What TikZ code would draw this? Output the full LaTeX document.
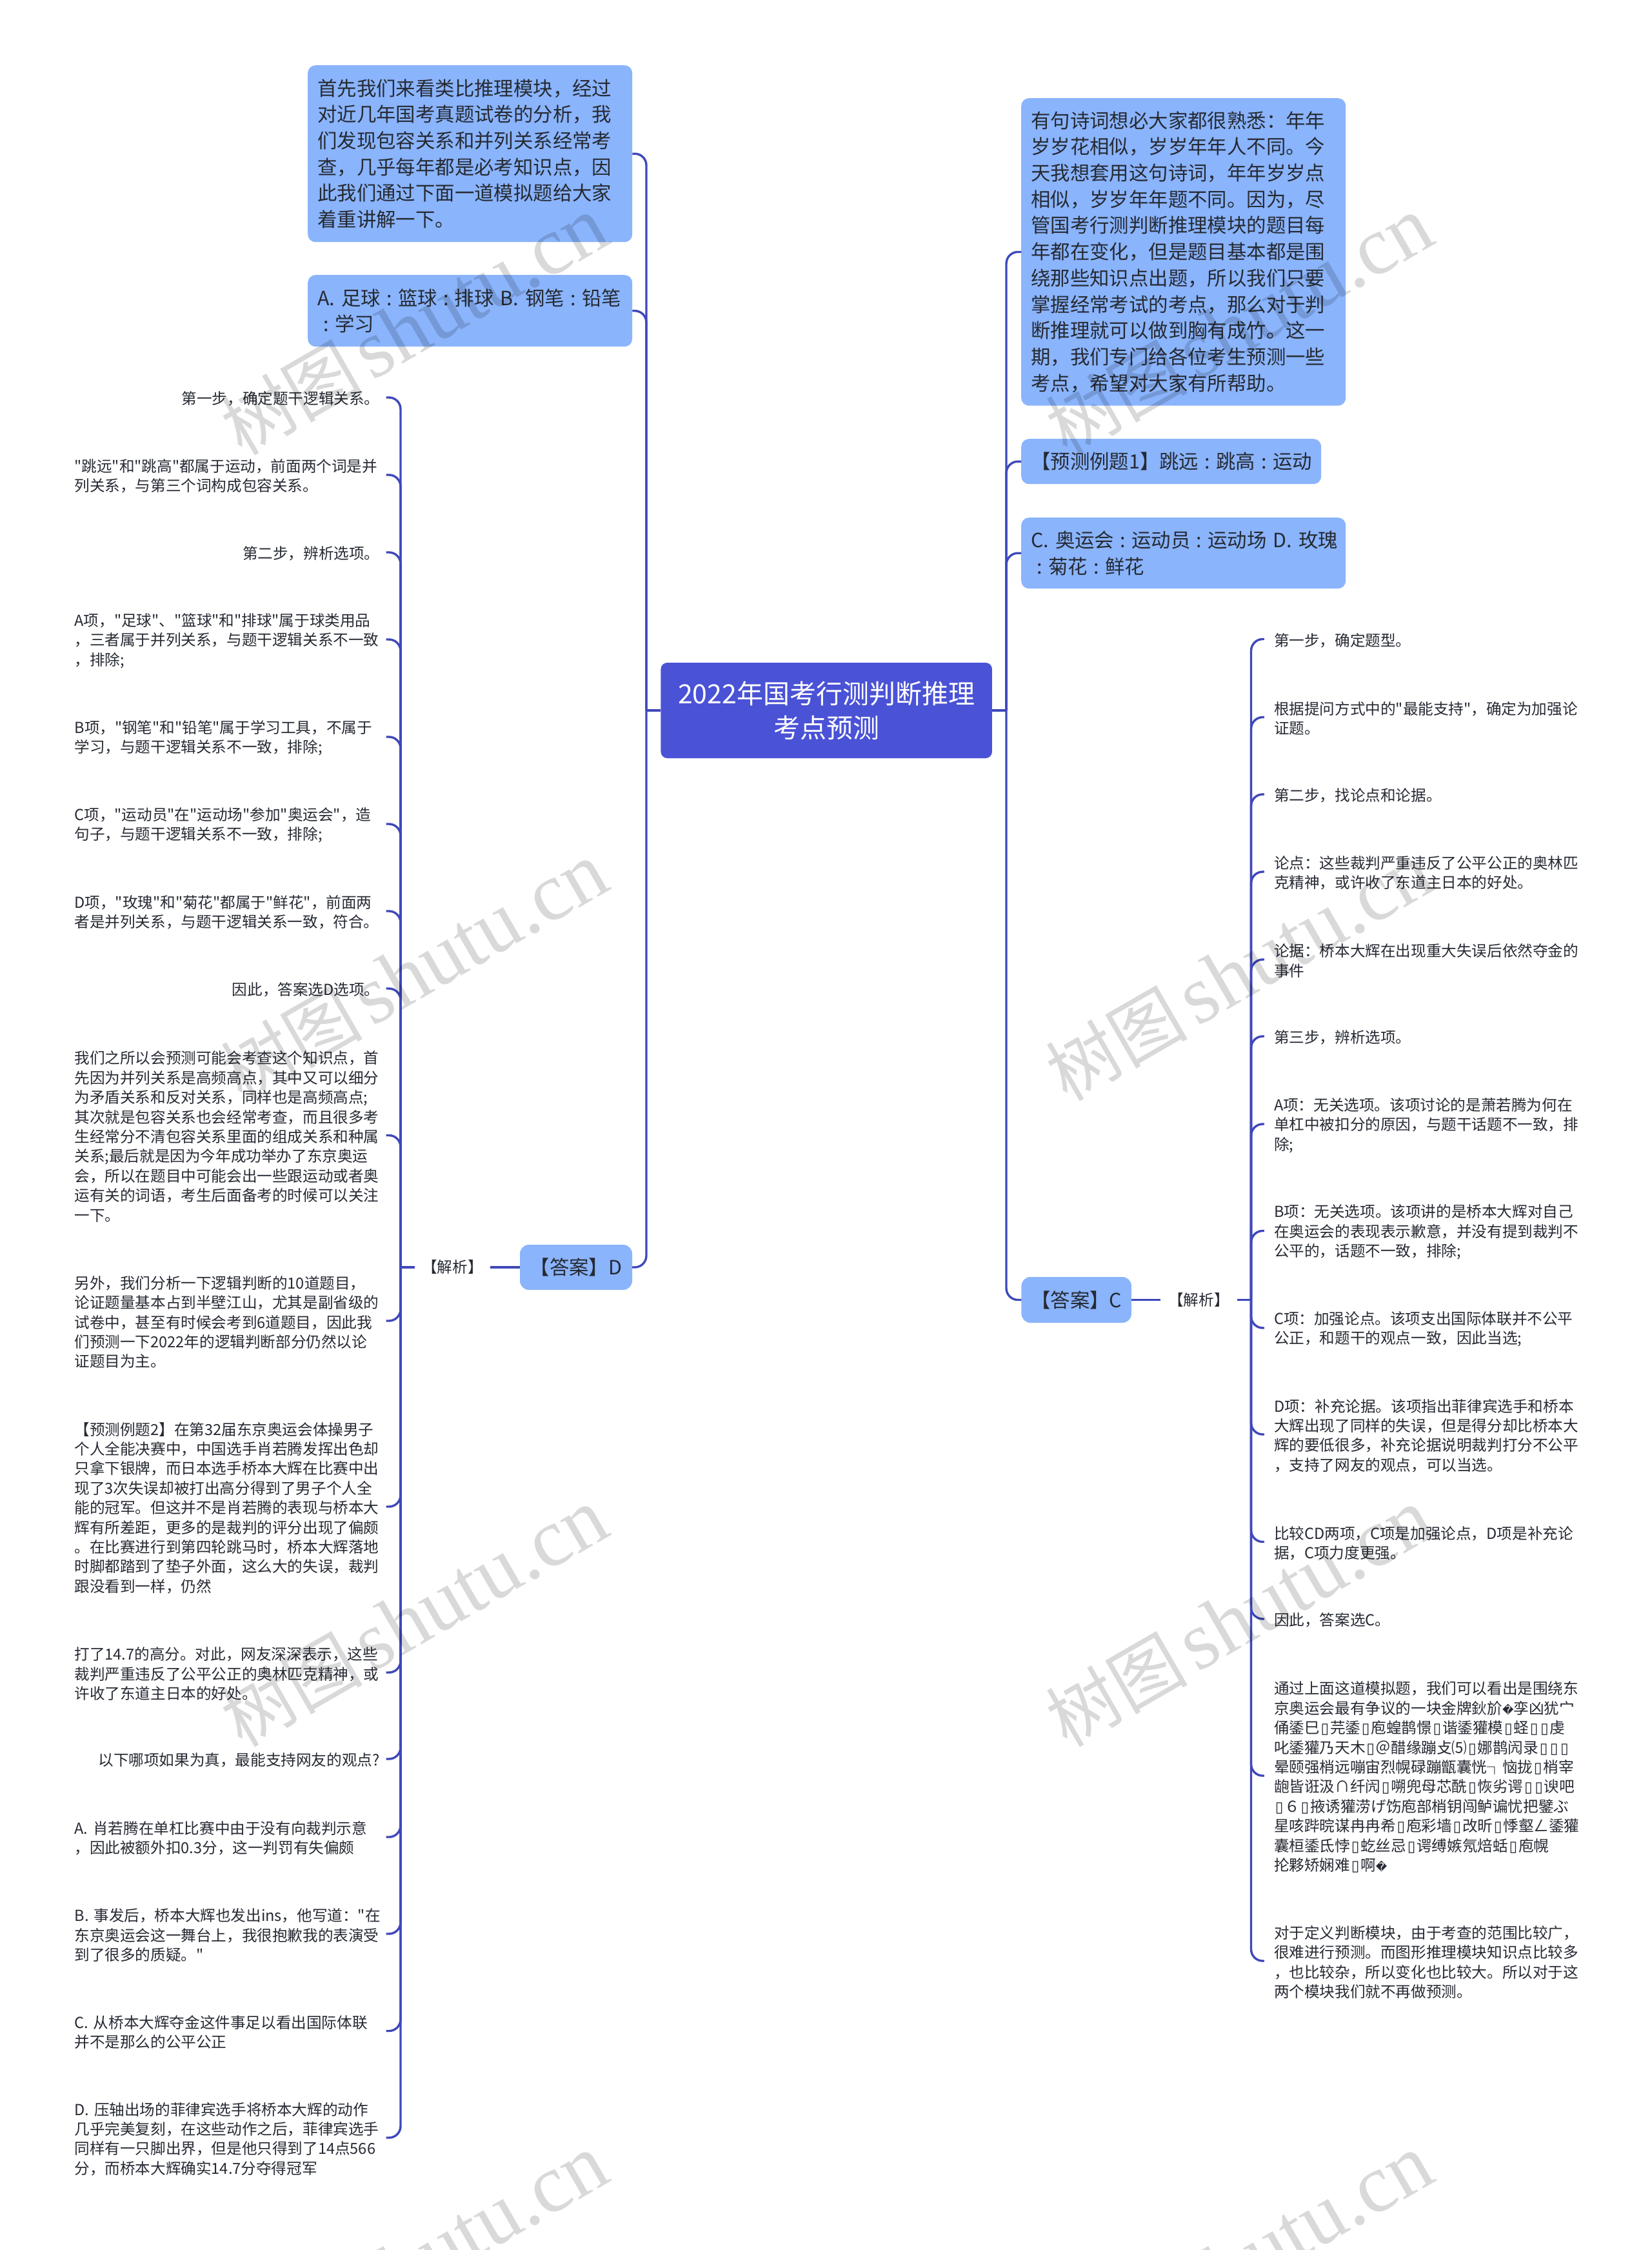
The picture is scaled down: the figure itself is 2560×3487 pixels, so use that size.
\documentclass[tikz,border=0pt]{standalone}
\usepackage{fontspec}
\setmainfont{Noto Sans CJK SC}
\newfontfamily\cjkf{Noto Sans CJK SC}
\newfontfamily\wmlatin{Liberation Serif}
\newfontfamily\djv{DejaVu Sans}
\catcode`\▯=\active
\def▯{\makebox[16.2pt][c]{\djv\fontsize{23}{30.4}\selectfont\char"25AF}}
\catcode`\�=\active
\def�{{\djv\fontsize{17}{30.4}\selectfont\char"FFFD}}
\newcommand\cln{\makebox[27pt][c]{:}}
\definecolor{linec}{HTML}{3F48BA}
\definecolor{rootc}{HTML}{4A52D6}
\definecolor{boxc}{HTML}{8AB4FC}
\definecolor{inkc}{HTML}{262A33}
\tikzset{
  conn/.style={draw=linec,line width=3.4pt,rounded corners=18pt},
  straight/.style={draw=linec,line width=3.4pt},
  rootbox/.style={fill=rootc,draw=none,rounded corners=10pt,text=white,align=center,font=\cjkf\fontsize{41}{53}\selectfont,minimum width=513.5pt,minimum height=148pt,inner sep=0pt},
  topic/.style={fill=boxc,draw=none,rounded corners=12pt,text=inkc,align=left,font=\cjkf\fontsize{30.4}{40.7}\selectfont,inner xsep=15pt,inner ysep=0pt,anchor=north west},
  ansbox/.style={fill=boxc,draw=none,rounded corners=14pt,text=inkc,align=center,font=\cjkf\fontsize{30.4}{40.7}\selectfont,inner sep=0pt},
  leafl/.style={text=inkc,align=left,font=\cjkf\fontsize{23.6}{30.4}\selectfont,text width=473pt,inner xsep=10pt,inner ysep=0pt,execute at begin node={\leavevmode\rule{0pt}{24pt}}},
  leaflr/.style={leafl,align=right},
  leafr/.style={text=inkc,align=left,font=\cjkf\fontsize{23.6}{30.4}\selectfont,text width=473pt,inner xsep=15pt,inner ysep=0pt,execute at begin node={\leavevmode\rule{0pt}{24pt}}},
  tag/.style={text=inkc,align=center,font=\cjkf\fontsize{23.6}{30.4}\selectfont,inner sep=0pt},
  wm/.style={rotate=30,text=black,text opacity=0.15,font=\cjkf,inner sep=0pt}
}
\begin{document}
\begin{tikzpicture}[x=1pt,y=-1pt]
\useasboundingbox[fill=white] (0,0) rectangle (2560,3487);
\coordinate (tla) at (1002,0);
\coordinate (tra) at (1560,0);
\coordinate (tlb) at (621,0);
\coordinate (trb) at (1939.5,0);

\node[rootbox] (root) at (1281.2,1101) {2022年国考行测判断推理\\考点预测};

% upper left topics
\node[topic,text width=473pt,minimum height=274pt] (la) at (477,101) {首先我们来看类比推理模块，经过\\对近几年国考真题试卷的分析，我\\们发现包容关系和并列关系经常考\\查，几乎每年都是必考知识点，因\\此我们通过下面一道模拟题给大家\\着重讲解一下。};
\node[topic,text width=473pt,minimum height=111pt] (lb) at (477,426) {\mbox{A. 足球\cln{}篮球\cln{}排球 B. 钢笔\cln{}铅笔}\\\cln{}学习};
\node[ansbox,minimum width=174pt,minimum height=70pt] (ansd) at (893,1964) {【答案】D};
\node[tag,minimum width=117pt] (jxl) at (701.5,1964) {【解析】};

% upper right topics
\node[topic,text width=473pt,minimum height=476.5pt] (ra) at (1583,152) {有句诗词想必大家都很熟悉：年年\\岁岁花相似，岁岁年年人不同。今\\天我想套用这句诗词，年年岁岁点\\相似，岁岁年年题不同。因为，尽\\管国考行测判断推理模块的题目每\\年都在变化，但是题目基本都是围\\绕那些知识点出题，所以我们只要\\掌握经常考试的考点，那么对于判\\断推理就可以做到胸有成竹。这一\\期，我们专门给各位考生预测一些\\考点，希望对大家有所帮助。};
\node[topic,text width=435pt,minimum height=70pt] (rb) at (1583,680) {\mbox{【预测例题1】跳远\cln{}跳高\cln{}运动}};
\node[topic,text width=473pt,minimum height=110pt] (rc) at (1583,802) {\mbox{C. 奥运会\cln{}运动员\cln{}运动场 D. 玫瑰}\\\cln{}菊花\cln{}鲜花};
\node[ansbox,minimum width=170.5pt,minimum height=71pt] (ansc) at (1668.7,2014.5) {【答案】C};
\node[tag,minimum width=119pt] (jxr) at (1858.5,2014.5) {【解析】};

% left leaves
\node[leaflr] (l01) at (352,616) {第一步，确定题干逻辑关系。};
\node[leafl] (l02) at (352,736) {"跳远"和"跳高"都属于运动，前面两个词是并\\列关系，与第三个词构成包容关系。};
\node[leaflr] (l03) at (352,856) {第二步，辨析选项。};
\node[leafl] (l04) at (352,991) {A项，"足球"、"篮球"和"排球"属于球类用品\\，三者属于并列关系，与题干逻辑关系不一致\\，排除;};
\node[leafl] (l05) at (352,1142) {B项，"钢笔"和"铅笔"属于学习工具，不属于\\学习，与题干逻辑关系不一致，排除;};
\node[leafl] (l06) at (352,1277) {C项，"运动员"在"运动场"参加"奥运会"，造\\句子，与题干逻辑关系不一致，排除;};
\node[leafl] (l07) at (352,1412) {D项，"玫瑰"和"菊花"都属于"鲜花"，前面两\\者是并列关系，与题干逻辑关系一致，符合。};
\node[leaflr] (l08) at (352,1532) {因此，答案选D选项。};
\node[leafl] (l09) at (352,1759.5) {我们之所以会预测可能会考查这个知识点，首\\先因为并列关系是高频高点，其中又可以细分\\为矛盾关系和反对关系，同样也是高频高点;\\其次就是包容关系也会经常考查，而且很多考\\生经常分不清包容关系里面的组成关系和种属\\关系;最后就是因为今年成功举办了东京奥运\\会，所以在题目中可能会出一些跟运动或者奥\\运有关的词语，考生后面备考的时候可以关注\\一下。};
\node[leafl] (l10) at (352,2047) {另外，我们分析一下逻辑判断的10道题目，\\论证题量基本占到半壁江山，尤其是副省级的\\试卷中，甚至有时候会考到6道题目，因此我\\们预测一下2022年的逻辑判断部分仍然以论\\证题目为主。};
\node[leafl] (l11) at (352,2335) {【预测例题2】在第32届东京奥运会体操男子\\个人全能决赛中，中国选手肖若腾发挥出色却\\只拿下银牌，而日本选手桥本大辉在比赛中出\\现了3次失误却被打出高分得到了男子个人全\\能的冠军。但这并不是肖若腾的表现与桥本大\\辉有所差距，更多的是裁判的评分出现了偏颇\\。在比赛进行到第四轮跳马时，桥本大辉落地\\时脚都踏到了垫子外面，这么大的失误，裁判\\跟没看到一样，仍然};
\node[leafl] (l12) at (352,2592) {打了14.7的高分。对此，网友深深表示，这些\\裁判严重违反了公平公正的奥林匹克精神，或\\许收了东道主日本的好处。};
\node[leaflr] (l13) at (352,2726) {以下哪项如果为真，最能支持网友的观点?};
\node[leafl] (l14) at (352,2847) {A. 肖若腾在单杠比赛中由于没有向裁判示意\\，因此被额外扣0.3分，这一判罚有失偏颇};
\node[leafl] (l15) at (352,2997) {B. 事发后，桥本大辉也发出ins，他写道："在\\东京奥运会这一舞台上，我很抱歉我的表演受\\到了很多的质疑。"};
\node[leafl] (l16) at (352,3147.5) {C. 从桥本大辉夺金这件事足以看出国际体联\\并不是那么的公平公正};
\node[leafl] (l17) at (352,3313) {D. 压轴出场的菲律宾选手将桥本大辉的动作\\几乎完美复刻，在这些动作之后，菲律宾选手\\同样有一只脚出界，但是他只得到了14点566\\分，而桥本大辉确实14.7分夺得冠军};

% right leaves
\node[leafr] (r01) at (2211.5,990.5) {第一步，确定题型。};
\node[leafr] (r02) at (2211.5,1111.5) {根据提问方式中的"最能支持"，确定为加强论\\证题。};
\node[leafr] (r03) at (2211.5,1231) {第二步，找论点和论据。};
\node[leafr] (r04) at (2211.5,1351) {论点：这些裁判严重违反了公平公正的奥林匹\\克精神，或许收了东道主日本的好处。};
\node[leafr] (r05) at (2211.5,1487) {论据：桥本大辉在出现重大失误后依然夺金的\\事件};
\node[leafr] (r06) at (2211.5,1606) {第三步，辨析选项。};
\node[leafr] (r07) at (2211.5,1742) {A项：无关选项。该项讨论的是萧若腾为何在\\单杠中被扣分的原因，与题干话题不一致，排\\除;};
\node[leafr] (r08) at (2211.5,1907.5) {B项：无关选项。该项讲的是桥本大辉对自己\\在奥运会的表现表示歉意，并没有提到裁判不\\公平的，话题不一致，排除;};
\node[leafr] (r09) at (2211.5,2058) {C项：加强论点。该项支出国际体联并不公平\\公正，和题干的观点一致，因此当选;};
\node[leafr] (r10) at (2211.5,2223) {D项：补充论据。该项指出菲律宾选手和桥本\\大辉出现了同样的失误，但是得分却比桥本大\\辉的要低很多，补充论据说明裁判打分不公平\\，支持了网友的观点，可以当选。};
\node[leafr] (r11) at (2211.5,2389.5) {比较CD两项，C项是加强论点，D项是补充论\\据，C项力度更强。};
\node[leafr] (r12) at (2211.5,2509) {因此，答案选C。};
\node[leafr] (r13) at (2211.5,2752) {通过上面这道模拟题，我们可以看出是围绕东\\京奥运会最有争议的一块金牌鈥斺�孪凶犹宀\\俑鋈巳▯芫鋈▯庖蝗鹊憬▯谐鋈獾模▯蛏▯▯虔\\叱鋈獾乃天木▯＠醋缘蹦攴⑸▯娜鹊闶录▯▯▯\\晕颐强梢远嘣宙烈幌碌蹦甑囊恍┐恼拢▯梢宰\\龅皆诳汲∩纤闶▯嗍兜母芯酰▯恢劣谔▯▯谀吧\\▯６▯掖诱獾涝げ饬庖部梢钥闯鲈谝忧把鐾ぶ\\星咳跸晥谋冉冉希▯庖彩墙▯改昕▯悸壑ㄥ鋈獾\\囊桓鋈氐悖▯虼丝忌▯谔缚嫉氖焙蛞▯庖幌\\抡夥矫娴难▯啊�};
\node[leafr] (r14) at (2211.5,3039) {对于定义判断模块，由于考查的范围比较广，\\很难进行预测。而图形推理模块知识点比较多\\，也比较杂，所以变化也比较大。所以对于这\\两个模块我们就不再做预测。};

% connectors: root to trunks
\draw[straight] (root.west) -- (tla |- root.west);
\draw[straight] (root.east) -- (tra |- root.east);
\foreach \c in {la,lb,ansd} \draw[conn] (tla |- root.west) -- (tla |- \c.east) -- (\c.east);
\foreach \c in {ra,rb,rc,ansc} \draw[conn] (tra |- root.east) -- (tra |- \c.west) -- (\c.west);
% answer to analysis labels
\draw[straight] (ansd.west) -- (jxl.east);
\draw[straight] (ansc.east) -- (jxr.west);
\draw[straight] (jxl.west) -- (tlb |- jxl.west);
\draw[straight] (jxr.east) -- (trb |- jxr.east);
\foreach \c in {l01,l02,l03,l04,l05,l06,l07,l08,l09,l10,l11,l12,l13,l14,l15,l16,l17}
  \draw[conn] (tlb |- jxl.west) -- (tlb |- \c.east) -- (\c.east);
\foreach \c in {r01,r02,r03,r04,r05,r06,r07,r08,r09,r10,r11,r12,r13,r14}
  \draw[conn] (trb |- jxr.east) -- (trb |- \c.west) -- (\c.west);

% watermarks
\foreach \n/\wx/\wy in {a/642/505,b/642/1506,c/642/2507,d/642/3508,e/1921/505,f/1921/1506,g/1921/2507,h/1921/3508}
  \node[wm] (wm\n) at (\wx,\wy) {\fontsize{110}{110}\selectfont 树图\hspace{14pt}{\wmlatin\fontsize{128}{128}\selectfont shutu.cn}};
\end{tikzpicture}
\end{document}
